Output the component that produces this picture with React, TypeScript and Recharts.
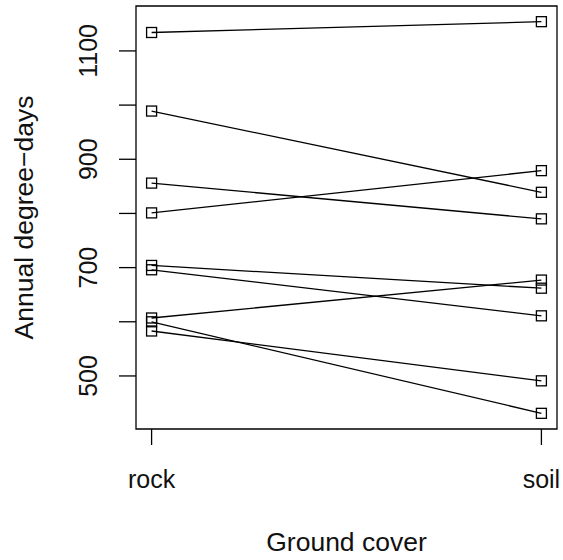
import React from 'react';
import { LineChart, Line, XAxis, YAxis, ReferenceArea, Label } from 'recharts';

// ground cover categories (x positions 1 and 2)
const categories = ['rock', 'soil'];
const categoryPos = [1, 2];

// annual degree-days per site, rock vs soil
const rockValues = [1134, 989, 856, 801, 704, 696, 607, 600, 583];
const soilValues = [1154, 839, 790, 879, 662, 611, 677, 431, 491];

const yTicks = [500, 600, 700, 800, 900, 1000, 1100];
const yLabeled = [500, 700, 900, 1100];

const FONT = '"Liberation Sans", Arial, sans-serif';

// R-style 4% padding around data range
const allVals = [...rockValues, ...soilValues];
const yMin = Math.min(...allVals);
const yMax = Math.max(...allVals);
const pad = (yMax - yMin) * 0.04;
const yDomain: [number, number] = [yMin - pad, yMax + pad];
const xDomain: [number, number] = [0.96, 2.04];

const data = categoryPos.map((x, i) => {
    const row: any = { x };
    rockValues.forEach((_, s) => {
        row[`s${s}`] = i === 0 ? rockValues[s] : soilValues[s];
    });
    return row;
});

const SquareDot = (props: any) => {
    const { cx, cy, index, dataKey } = props;
    if (cx == null || cy == null) return <g key={`${dataKey}-${index}`} />;
    return (
        <rect
            key={`${dataKey}-${index}`}
            x={cx - 5}
            y={cy - 5}
            width={10}
            height={10}
            fill="none"
            stroke="#000"
            strokeWidth={1.3}
        />
    );
};

const YTick = (props: any) => {
    const { x, y, payload } = props;
    if (!yLabeled.includes(payload.value)) return <g />;
    return (
        <text
            x={x - 22}
            y={y}
            transform={`rotate(-90, ${x - 22}, ${y})`}
            textAnchor="middle"
            fontSize={25}
            fontFamily={FONT}
            fill="#111"
        >
            {payload.value}
        </text>
    );
};

const XTick = (props: any) => {
    const { x, y, payload } = props;
    const idx = categoryPos.indexOf(payload.value);
    return (
        <text x={x} y={y + 43} textAnchor="middle" fontSize={25} fontFamily={FONT} fill="#111">
            {categories[idx]}
        </text>
    );
};

export default function App() {
    return (
        <div style={{ position: 'absolute', left: 0, top: 0, background: '#fff' }}>
            <LineChart
                width={563}
                height={560}
                data={data}
                margin={{ top: 6, right: 6, bottom: 0, left: 0 }}
            >
                <XAxis
                    type="number"
                    dataKey="x"
                    domain={xDomain}
                    ticks={categoryPos}
                    allowDataOverflow
                    axisLine={false}
                    tickLine={{ stroke: '#000', strokeWidth: 1.3 }}
                    tickSize={16}
                    tickMargin={0}
                    tick={<XTick />}
                    height={131}
                >
                    <Label
                        content={(p: any) => {
                            const vb = p.viewBox || { x: 136, y: 429, width: 421 };
                            return (
                                <text
                                    x={vb.x + vb.width / 2}
                                    y={vb.y + 122}
                                    textAnchor="middle"
                                    fontSize={26.5}
                                    fontFamily={FONT}
                                    fill="#111"
                                >
                                    Ground cover
                                </text>
                            );
                        }}
                    />
                </XAxis>
                <YAxis
                    type="number"
                    domain={yDomain}
                    ticks={yTicks}
                    allowDataOverflow
                    axisLine={false}
                    tickLine={{ stroke: '#000', strokeWidth: 1.3 }}
                    tickSize={17}
                    tickMargin={0}
                    tick={<YTick />}
                    width={136}
                >
                    <Label
                        content={(p: any) => {
                            const vb = p.viewBox || { x: 0, y: 6, height: 423 };
                            const cy = vb.y + vb.height / 2;
                            return (
                                <text
                                    x={33}
                                    y={cy}
                                    transform={`rotate(-90, 33, ${cy})`}
                                    textAnchor="middle"
                                    fontSize={26.5}
                                    fontFamily={FONT}
                                    fill="#111"
                                >
                                    Annual degree−days
                                </text>
                            );
                        }}
                    />
                </YAxis>
                <ReferenceArea
                    x1={xDomain[0]}
                    x2={xDomain[1]}
                    y1={yDomain[0]}
                    y2={yDomain[1]}
                    fill="none"
                    stroke="#000"
                    strokeWidth={1.3}
                    ifOverflow="visible"
                />
                {rockValues.map((_, s) => (
                    <Line
                        key={s}
                        dataKey={`s${s}`}
                        stroke="#000"
                        strokeWidth={1.3}
                        dot={SquareDot}
                        activeDot={false}
                        isAnimationActive={false}
                    />
                ))}
            </LineChart>
        </div>
    );
}
